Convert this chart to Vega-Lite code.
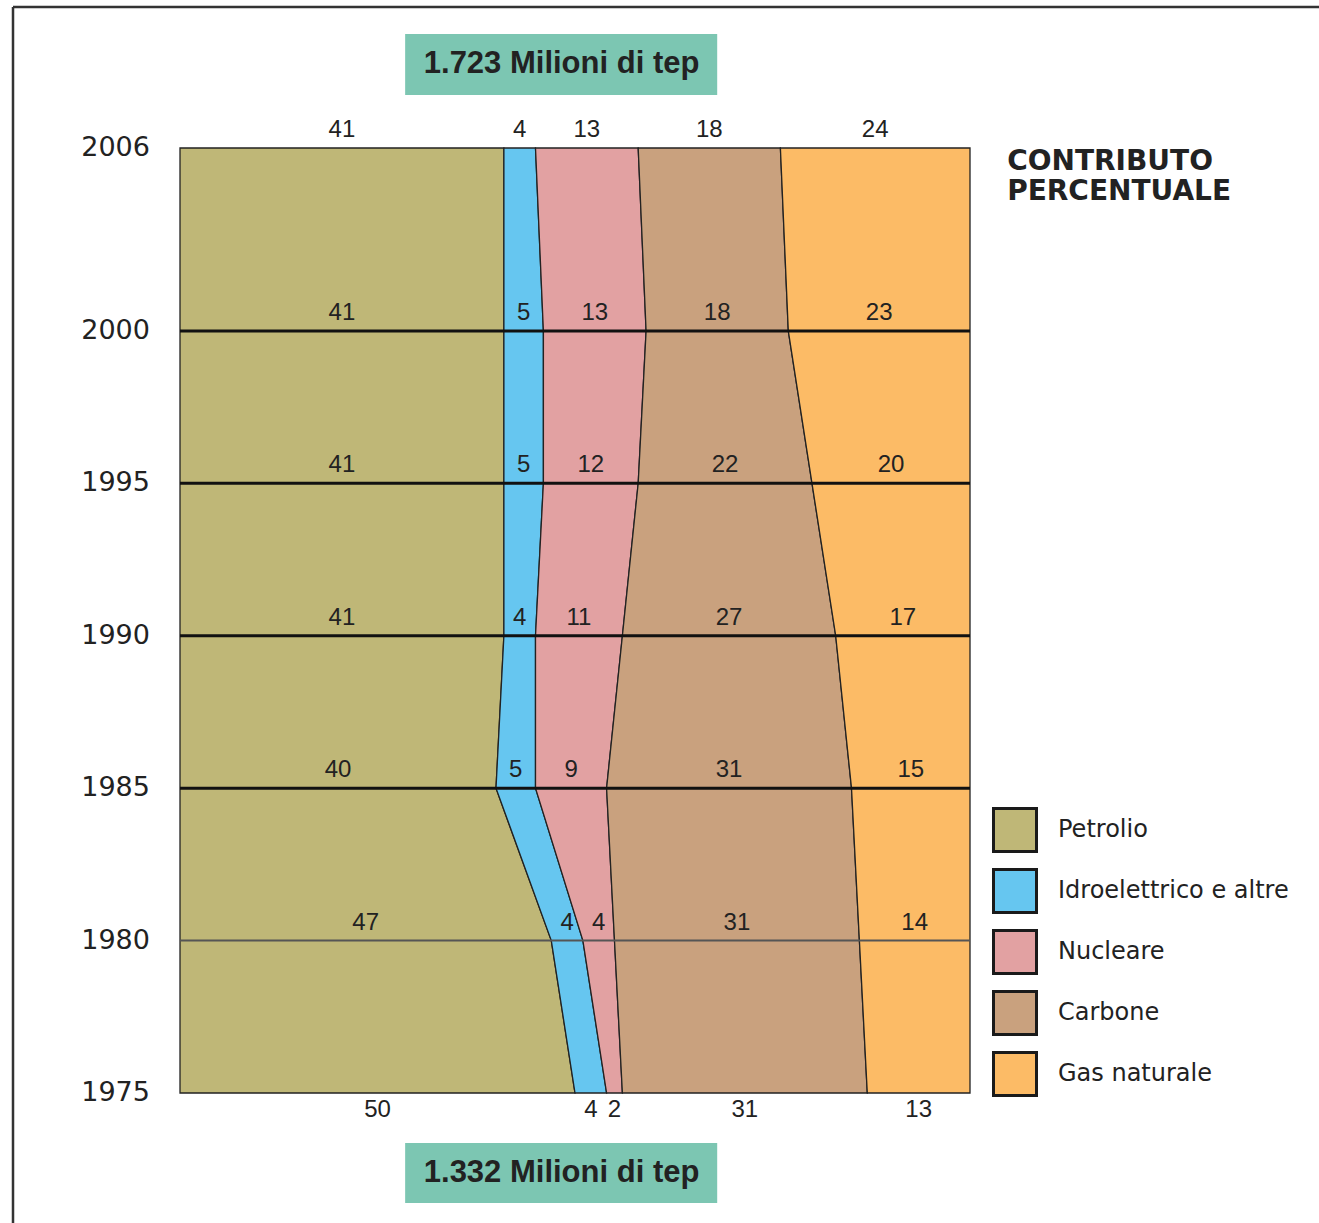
{
  "$schema": "https://vega.github.io/schema/vega-lite/v6.json",
  "width": 1306,
  "height": 1216,
  "autosize": {"type": "none"},
  "padding": {"left": 13, "top": 7, "right": 0, "bottom": 0},
  "background": "#ffffff",
  "config": {
    "view": {"stroke": null},
    "legend": {
      "orient": "none",
      "legendX": 979,
      "legendY": 800,
      "title": null,
      "padding": 0,
      "symbolType": "square",
      "symbolSize": 1849,
      "symbolStrokeColor": "#1a1a1a",
      "symbolStrokeWidth": 3,
      "symbolOpacity": 1,
      "labelFont": "DejaVu Sans",
      "labelFontSize": 24,
      "labelColor": "#222222",
      "labelOffset": 20,
      "labelLimit": 400,
      "rowPadding": 5
    }
  },
  "datasets": {
    "quote": [
      {"anno": 2006, "fonte": "Petrolio", "pct": 41},
      {"anno": 2006, "fonte": "Idroelettrico e altre", "pct": 4},
      {"anno": 2006, "fonte": "Nucleare", "pct": 13},
      {"anno": 2006, "fonte": "Carbone", "pct": 18},
      {"anno": 2006, "fonte": "Gas naturale", "pct": 24},
      {"anno": 2000, "fonte": "Petrolio", "pct": 41},
      {"anno": 2000, "fonte": "Idroelettrico e altre", "pct": 5},
      {"anno": 2000, "fonte": "Nucleare", "pct": 13},
      {"anno": 2000, "fonte": "Carbone", "pct": 18},
      {"anno": 2000, "fonte": "Gas naturale", "pct": 23},
      {"anno": 1995, "fonte": "Petrolio", "pct": 41},
      {"anno": 1995, "fonte": "Idroelettrico e altre", "pct": 5},
      {"anno": 1995, "fonte": "Nucleare", "pct": 12},
      {"anno": 1995, "fonte": "Carbone", "pct": 22},
      {"anno": 1995, "fonte": "Gas naturale", "pct": 20},
      {"anno": 1990, "fonte": "Petrolio", "pct": 41},
      {"anno": 1990, "fonte": "Idroelettrico e altre", "pct": 4},
      {"anno": 1990, "fonte": "Nucleare", "pct": 11},
      {"anno": 1990, "fonte": "Carbone", "pct": 27},
      {"anno": 1990, "fonte": "Gas naturale", "pct": 17},
      {"anno": 1985, "fonte": "Petrolio", "pct": 40},
      {"anno": 1985, "fonte": "Idroelettrico e altre", "pct": 5},
      {"anno": 1985, "fonte": "Nucleare", "pct": 9},
      {"anno": 1985, "fonte": "Carbone", "pct": 31},
      {"anno": 1985, "fonte": "Gas naturale", "pct": 15},
      {"anno": 1980, "fonte": "Petrolio", "pct": 47},
      {"anno": 1980, "fonte": "Idroelettrico e altre", "pct": 4},
      {"anno": 1980, "fonte": "Nucleare", "pct": 4},
      {"anno": 1980, "fonte": "Carbone", "pct": 31},
      {"anno": 1980, "fonte": "Gas naturale", "pct": 14},
      {"anno": 1975, "fonte": "Petrolio", "pct": 50},
      {"anno": 1975, "fonte": "Idroelettrico e altre", "pct": 4},
      {"anno": 1975, "fonte": "Nucleare", "pct": 2},
      {"anno": 1975, "fonte": "Carbone", "pct": 31},
      {"anno": 1975, "fonte": "Gas naturale", "pct": 13}
    ]
  },
  "data": {"name": "quote"},
  "transform": [
    {"calculate": "indexof(['Petrolio','Idroelettrico e altre','Nucleare','Carbone','Gas naturale'], datum.fonte)", "as": "ordine"},
    {"stack": "pct", "groupby": ["anno"], "sort": [{"field": "ordine", "order": "ascending"}], "as": ["x0", "x1"]},
    {"calculate": "(datum.x0 + datum.x1) / 2", "as": "xm"}
  ],
  "layer": [
    {
      "mark": {"type": "area", "orient": "horizontal", "stroke": "#222222", "strokeWidth": 1.3, "opacity": 1},
      "encoding": {
        "x": {"field": "x0", "type": "quantitative", "scale": {"domain": [-21.139, 144.177], "nice": false, "zero": false}, "axis": null},
        "x2": {"field": "x1"},
        "y": {"field": "anno", "type": "quantitative", "scale": {"domain": [1970.7354, 2010.6254], "nice": false, "zero": false}, "axis": null},
        "color": {
          "field": "fonte",
          "type": "nominal",
          "scale": {
            "domain": ["Petrolio", "Idroelettrico e altre", "Nucleare", "Carbone", "Gas naturale"],
            "range": ["#bfb777", "#66c6f0", "#e2a1a2", "#c9a17e", "#fcbb66"]
          }
        }
      }
    },
    {
      "transform": [{"filter": "datum.fonte == 'Petrolio' && datum.anno >= 1985 && datum.anno <= 2000"}],
      "mark": {"type": "rule", "color": "#111111", "strokeWidth": 3},
      "encoding": {
        "x": {"datum": 0},
        "x2": {"datum": 100},
        "y": {"field": "anno", "type": "quantitative"}
      }
    },
    {
      "transform": [{"filter": "datum.fonte == 'Petrolio' && datum.anno == 1980"}],
      "mark": {"type": "rule", "color": "#555555", "strokeWidth": 2},
      "encoding": {
        "x": {"datum": 0},
        "x2": {"datum": 100},
        "y": {"field": "anno", "type": "quantitative"}
      }
    },
    {
      "transform": [{"filter": "datum.anno != 1975"}],
      "mark": {"type": "text", "font": "Liberation Sans", "fontSize": 24, "color": "#222222", "align": "center", "baseline": "alphabetic", "dy": -11},
      "encoding": {
        "x": {"field": "xm", "type": "quantitative"},
        "y": {"field": "anno", "type": "quantitative"},
        "text": {"field": "pct", "type": "quantitative"}
      }
    },
    {
      "transform": [{"filter": "datum.anno == 1975"}],
      "mark": {"type": "text", "font": "Liberation Sans", "fontSize": 24, "color": "#222222", "align": "center", "baseline": "alphabetic", "dy": 24},
      "encoding": {
        "x": {"field": "xm", "type": "quantitative"},
        "y": {"field": "anno", "type": "quantitative"},
        "text": {"field": "pct", "type": "quantitative"}
      }
    },
    {
      "transform": [{"filter": "datum.fonte == 'Petrolio'"}],
      "mark": {"type": "text", "font": "DejaVu Sans", "fontSize": 27, "color": "#222222", "align": "right", "baseline": "middle"},
      "encoding": {
        "x": {"datum": -3.8},
        "y": {"field": "anno", "type": "quantitative"},
        "text": {"field": "anno", "type": "nominal"}
      }
    },
    {
      "data": {"values": [{"testo": "1.723 Milioni di tep"}]},
      "mark": {"type": "rect", "color": "#7cc6b2", "opacity": 1},
      "encoding": {
        "x": {"datum": 28.5},
        "x2": {"datum": 68},
        "y": {"datum": 2009.74},
        "y2": {"datum": 2007.74}
      }
    },
    {
      "data": {"values": [{"testo": "1.723 Milioni di tep"}]},
      "mark": {"type": "text", "font": "Liberation Sans", "fontWeight": "bold", "fontSize": 31, "color": "#222222", "align": "center", "baseline": "middle"},
      "encoding": {
        "x": {"datum": 48.3},
        "y": {"datum": 2008.74},
        "text": {"field": "testo"}
      }
    },
    {
      "data": {"values": [{"testo": "1.332 Milioni di tep"}]},
      "mark": {"type": "rect", "color": "#7cc6b2", "opacity": 1},
      "encoding": {
        "x": {"datum": 28.5},
        "x2": {"datum": 68},
        "y": {"datum": 1973.36},
        "y2": {"datum": 1971.39}
      }
    },
    {
      "data": {"values": [{"testo": "1.332 Milioni di tep"}]},
      "mark": {"type": "text", "font": "Liberation Sans", "fontWeight": "bold", "fontSize": 31, "color": "#222222", "align": "center", "baseline": "middle"},
      "encoding": {
        "x": {"datum": 48.3},
        "y": {"datum": 1972.375},
        "text": {"field": "testo"}
      }
    },
    {
      "data": {"values": [{"testo": ["CONTRIBUTO", "PERCENTUALE"]}]},
      "mark": {"type": "text", "font": "DejaVu Sans", "fontWeight": "bold", "fontSize": 28, "color": "#222222", "align": "left", "baseline": "top", "lineHeight": 30},
      "encoding": {
        "x": {"datum": 104.7},
        "y": {"datum": 2006.0},
        "text": {"field": "testo"}
      }
    },
    {
      "data": {"values": [{"lato": "alto"}]},
      "mark": {"type": "rule", "color": "#333333", "strokeWidth": 2.5},
      "encoding": {
        "x": {"datum": -21.139},
        "x2": {"datum": 144.177},
        "y": {"datum": 2010.6254}
      }
    },
    {
      "data": {"values": [{"lato": "sinistra"}]},
      "mark": {"type": "rule", "color": "#333333", "strokeWidth": 2.5},
      "encoding": {
        "x": {"datum": -21.139},
        "y": {"datum": 1970.7354},
        "y2": {"datum": 2010.6254}
      }
    }
  ]
}
